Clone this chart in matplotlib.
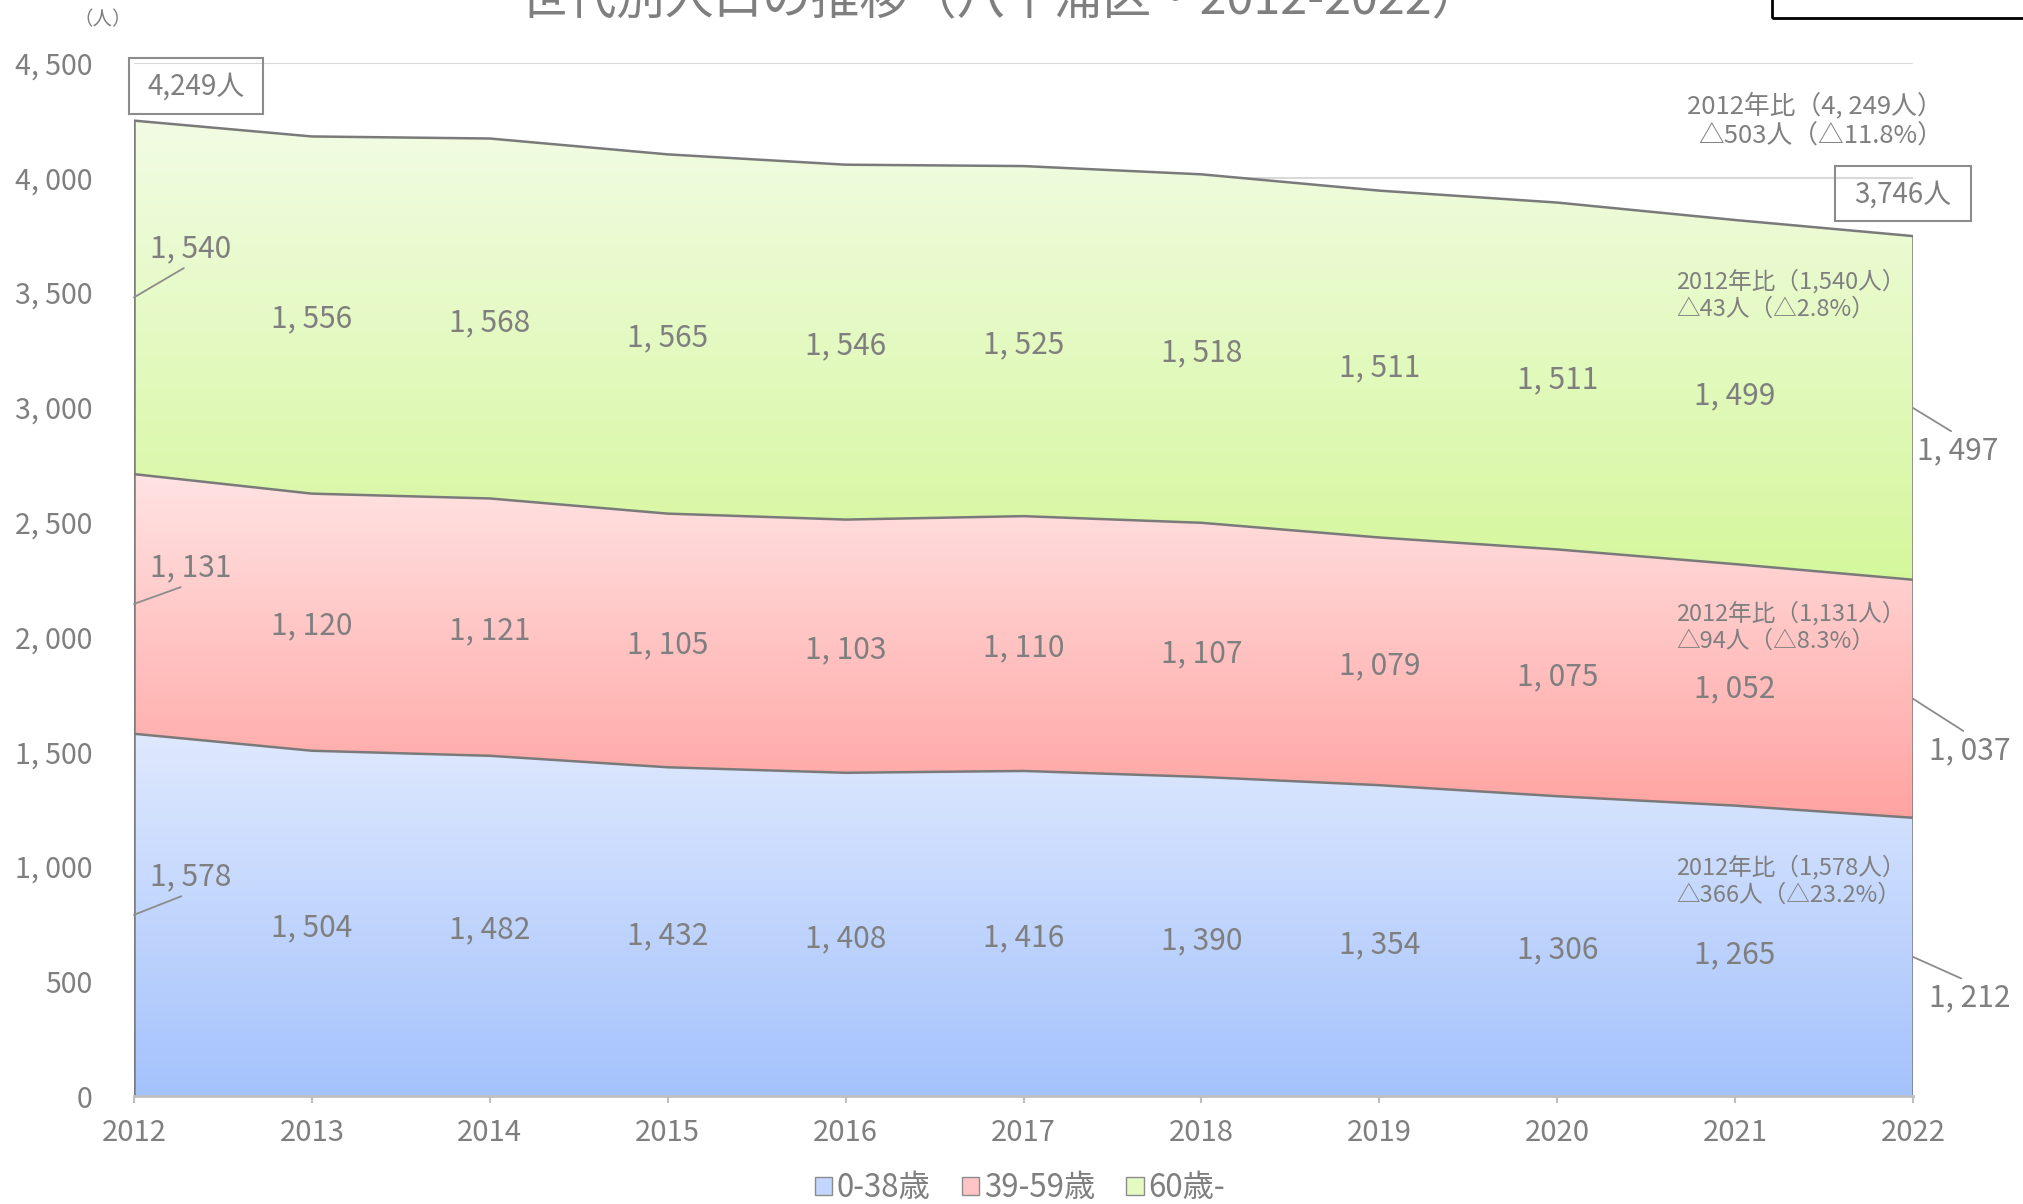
import numpy as np
import matplotlib
matplotlib.use("Agg")
import matplotlib.pyplot as plt
from matplotlib.colors import LinearSegmentedColormap
from matplotlib.patches import Polygon, Rectangle, Patch

plt.rcParams['font.family'] = ['Noto Sans CJK JP', 'DejaVu Sans']

# ---------------- data ----------------
years = [2012, 2013, 2014, 2015, 2016, 2017, 2018, 2019, 2020, 2021, 2022]
age_0_38 = [1578, 1504, 1482, 1432, 1408, 1416, 1390, 1354, 1306, 1265, 1212]
age_39_59 = [1131, 1120, 1121, 1105, 1103, 1110, 1107, 1079, 1075, 1052, 1037]
age_60_plus = [1540, 1556, 1568, 1565, 1546, 1525, 1518, 1511, 1511, 1499, 1497]
series_names = ['0-38歳', '39-59歳', '60歳-']
yticks = [0, 500, 1000, 1500, 2000, 2500, 3000, 3500, 4000, 4500]
ytick_labels = ['0', '500', '1, 000', '1, 500', '2, 000', '2, 500', '3, 000', '3, 500', '4, 000', '4, 500']
title = '世代別人口の推移（八千浦区・2012-2022）'

# gradient colours (bottom, top)
grad_colors = [('#a4c2fc', '#dfe9fe'), ('#ffa3a1', '#ffe3e3'), ('#d5f79c', '#f2fce4')]
legend_colors = ['#c3d6fd', '#ffc4c3', '#e4fac0']
TXT = '#7f7f7f'
EDGE = '#7a7a7a'

W, H = 2024, 1204
fig = plt.figure(figsize=(W / 100, H / 100), dpi=100)
ax = fig.add_axes([134 / W, 1 - 1096 / H, (1913 - 134) / W, (1096 - 63) / H])

x = np.array(years, dtype=float)
layers = [np.array(age_0_38), np.array(age_39_59), np.array(age_60_plus)]
lower = np.zeros_like(x)
bounds = []
for i, lay in enumerate(layers):
    upper = lower + lay
    bounds.append((lower.copy(), upper.copy()))
    verts = np.concatenate([np.column_stack([x, upper]), np.column_stack([x[::-1], lower[::-1]])])
    poly = Polygon(verts, closed=True, facecolor='none', edgecolor='none')
    ax.add_patch(poly)
    cmap = LinearSegmentedColormap.from_list('g%d' % i, list(grad_colors[i]))
    grad = np.linspace(0, 1, 256).reshape(-1, 1)
    im = ax.imshow(grad, extent=[x[0], x[-1], lower.min(), upper.max()], origin='lower',
                   aspect='auto', cmap=cmap, zorder=1, interpolation='bicubic')
    im.set_clip_path(poly)
    ax.plot(x, upper, color=EDGE, lw=1.8, zorder=3, solid_capstyle='butt')
    lower = upper

total = lower
ax.plot([x[0], x[0]], [0, total[0]], color=EDGE, lw=1.8, zorder=3)
ax.plot([x[-1], x[-1]], [0, total[-1]], color=EDGE, lw=1.8, zorder=3)

ax.set_xlim(years[0], years[-1])
ax.set_ylim(0, 4500)
ax.set_yticks(yticks)
ax.set_yticklabels(ytick_labels)
ax.set_xticks(years)
ax.set_xticklabels([str(y) for y in years])
ax.yaxis.grid(True, color='#d9d9d9', lw=1.5)
ax.set_axisbelow(True)
for s in ['left', 'right', 'top']:
    ax.spines[s].set_visible(False)
ax.spines['bottom'].set_color('#bfbfbf')
ax.spines['bottom'].set_linewidth(2)
ax.spines['bottom'].set_zorder(4)
ax.tick_params(axis='y', length=0, pad=30, labelsize=20.5, labelcolor=TXT)
ax.tick_params(axis='x', length=5, width=1.5, color='#bfbfbf', pad=11, labelsize=21, labelcolor=TXT)


def fmt(n):
    return f'{int(n):,}'.replace(',', ', ')


# data labels
for i, lay in enumerate(layers):
    lo, up = bounds[i]
    mids = (lo + up) / 2
    for j in range(1, len(years) - 1):
        ax.annotate(fmt(lay[j]), xy=(x[j], mids[j]), xytext=(0, -4), textcoords='offset pixels',
                    ha='center', va='center', fontsize=21.5, color=TXT, zorder=5)

# first / last labels with leader
offs_first = [(57, 38), (57, 36), (57, 49)]
offs_last = [(57, -41), (57, -52), (45, -43)]
for i, lay in enumerate(layers):
    lo, up = bounds[i]
    mids = (lo + up) / 2
    ax.annotate(fmt(lay[0]), xy=(x[0], mids[0]), xytext=offs_first[i], textcoords='offset pixels',
                ha='center', va='center', fontsize=21.5, color=TXT, zorder=5, annotation_clip=False,
                arrowprops=dict(arrowstyle='-', color='#8c8c8c', lw=1.3, relpos=(0.5, 0.0),
                                shrinkA=2, shrinkB=0))
    ax.annotate(fmt(lay[-1]), xy=(x[-1], mids[-1]), xytext=offs_last[i], textcoords='offset pixels',
                ha='center', va='center', fontsize=21.5, color=TXT, zorder=5, annotation_clip=False,
                arrowprops=dict(arrowstyle='-', color='#8c8c8c', lw=1.3, relpos=(0.5, 1.0),
                                shrinkA=2, shrinkB=0))

# comparison texts
def comp_text(first, last, sep=','):
    d = first - last
    pct = d / first * 100
    return f'2012年比（{int(first):,}人）'.replace(',', sep) + f'\n△{int(d)}人（△{pct:.1f}%）'

fig.text(1943 / W, 1 - 121 / H, comp_text(total[0], total[-1], sep=', '), ha='right', va='center',
         fontsize=18.5, color=TXT, linespacing=1.2)
comp_y = [881, 627, 295]
for i, lay in enumerate(layers):
    fig.text(1676 / W, 1 - comp_y[i] / H, comp_text(lay[0], lay[-1]), ha='left', va='center',
             fontsize=17, color=TXT, linespacing=1.2)

# total boxes
fig.patches.append(Rectangle((129 / W, 1 - 114 / H), 134 / W, 56 / H, transform=fig.transFigure,
                             fill=False, ec='#8c8c8c', lw=1.5))
fig.text(196 / W, 1 - 87 / H, f'{int(total[0]):,}人', ha='center', va='center', fontsize=20, color=TXT)
fig.patches.append(Rectangle((1835 / W, 1 - 221 / H), 136 / W, 55 / H, transform=fig.transFigure,
                             fill=False, ec='#8c8c8c', lw=1.5))
fig.text(1903 / W, 1 - 195 / H, f'{int(total[-1]):,}人', ha='center', va='center', fontsize=20, color=TXT)

# title (partly cut off at the top) and top-right box
fig.text(1000 / W, 1 - 14 / H, title, ha='center', va='baseline', fontsize=35, color=TXT)
fig.patches.append(Rectangle((1772 / W, 1 - 18 / H), 300 / W, 100 / H, transform=fig.transFigure,
                             fill=False, ec='black', lw=2))
fig.text(103 / W, 1 - 20 / H, '（人）', ha='center', va='center', fontsize=14, color=TXT)

# legend
handles = [Patch(facecolor=legend_colors[i], edgecolor='#8c8c8c', lw=1) for i in range(3)]
fig.legend(handles, series_names, loc='center', bbox_to_anchor=(1020 / W, 1 - 1188 / H), ncol=3,
           frameon=False, fontsize=22.5, handlelength=0.55, handleheight=0.55, handletextpad=0.15,
           columnspacing=1.0, labelcolor=TXT)

fig.savefig('out.png', dpi=100)
